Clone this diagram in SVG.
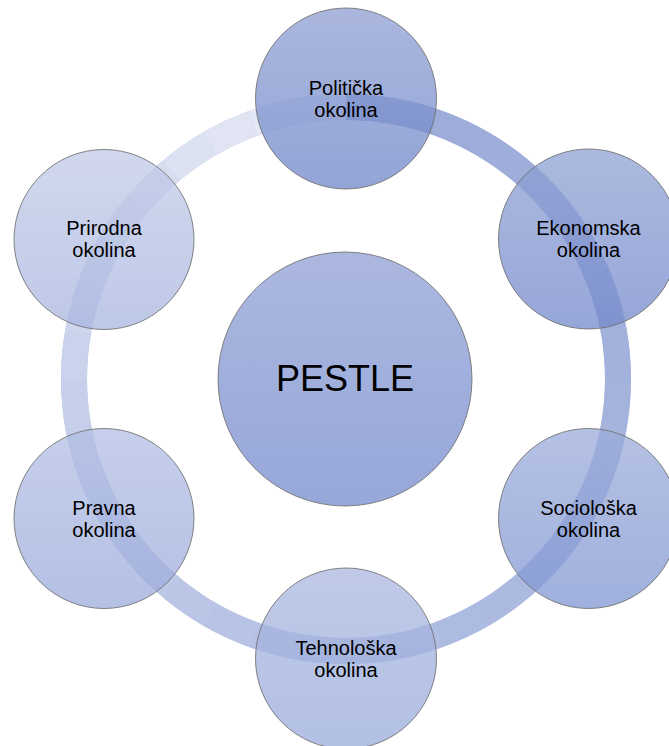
<svg xmlns="http://www.w3.org/2000/svg" width="669" height="746" viewBox="0 0 669 746">
<defs>
<style>
.seg{fill:none;stroke-width:26;stroke-linecap:butt}
.node{stroke:#6e6e6e;stroke-width:1;stroke-opacity:0.85}
.outer{fill-opacity:0.75}
.lbl{font-family:"Liberation Sans",Arial,sans-serif;font-size:20px;fill:#000;text-anchor:middle}
.big{font-family:"Liberation Sans",Arial,sans-serif;font-size:36px;fill:#000;text-anchor:middle}
</style>
<linearGradient id="gPol" x1="0" y1="0" x2="0" y2="1"><stop offset="0" stop-color="#8e9ed3"/><stop offset="1" stop-color="#6e86c8"/></linearGradient>
<linearGradient id="gEko" x1="0" y1="0" x2="0" y2="1"><stop offset="0" stop-color="#90a2d4"/><stop offset="1" stop-color="#7388cb"/></linearGradient>
<linearGradient id="gSoc" x1="0" y1="0" x2="0" y2="1"><stop offset="0" stop-color="#9cacda"/><stop offset="1" stop-color="#8096d2"/></linearGradient>
<linearGradient id="gTeh" x1="0" y1="0" x2="0" y2="1"><stop offset="0" stop-color="#abb8e0"/><stop offset="1" stop-color="#98abdb"/></linearGradient>
<linearGradient id="gPra" x1="0" y1="0" x2="0" y2="1"><stop offset="0" stop-color="#b3bfe4"/><stop offset="1" stop-color="#9babdb"/></linearGradient>
<linearGradient id="gPri" x1="0" y1="0" x2="0" y2="1"><stop offset="0" stop-color="#c2cbe7"/><stop offset="1" stop-color="#a8b6e0"/></linearGradient>
<linearGradient id="gCen" x1="0" y1="0" x2="0" y2="1"><stop offset="0" stop-color="#abb7df"/><stop offset="1" stop-color="#96a7d9"/></linearGradient>
</defs>
<rect width="669" height="746" fill="#ffffff"/>
<g id="connectors">
<circle cx="346" cy="379" r="272" fill="none" stroke="#b8c4e5" stroke-width="26"/>
<path class="seg" stroke="#9baad7" d="M346,107 A272,272 0 0 1 393.23,111.13"/>
<path class="seg" stroke="#9cabd8" d="M393.23,111.13 A272,272 0 0 1 439.03,123.40"/>
<path class="seg" stroke="#9dacd8" d="M439.03,123.40 A272,272 0 0 1 482,143.44"/>
<path class="seg" stroke="#9eadd9" d="M482,143.44 A272,272 0 0 1 520.84,170.64"/>
<path class="seg" stroke="#9faed9" d="M520.84,170.64 A272,272 0 0 1 554.36,204.16"/>
<path class="seg" stroke="#a0afda" d="M554.36,204.16 A272,272 0 0 1 581.56,243"/>
<path class="seg" stroke="#a1b0db" d="M581.56,243 A272,272 0 0 1 601.60,285.97"/>
<path class="seg" stroke="#a2b1db" d="M601.60,285.97 A272,272 0 0 1 613.87,331.77"/>
<path class="seg" stroke="#a3b2dc" d="M613.87,331.77 A272,272 0 0 1 618,379"/>
<path class="seg" stroke="#a4b3dc" d="M618,379 A272,272 0 0 1 613.87,426.23"/>
<path class="seg" stroke="#a6b4dd" d="M613.87,426.23 A272,272 0 0 1 601.60,472.03"/>
<path class="seg" stroke="#a7b6de" d="M601.60,472.03 A272,272 0 0 1 581.56,515"/>
<path class="seg" stroke="#a9b7df" d="M581.56,515 A272,272 0 0 1 554.36,553.84"/>
<path class="seg" stroke="#abb9e0" d="M554.36,553.84 A272,272 0 0 1 520.84,587.36"/>
<path class="seg" stroke="#acbae0" d="M520.84,587.36 A272,272 0 0 1 482,614.56"/>
<path class="seg" stroke="#aebbe1" d="M482,614.56 A272,272 0 0 1 439.03,634.60"/>
<path class="seg" stroke="#b0bde2" d="M439.03,634.60 A272,272 0 0 1 393.23,646.87"/>
<path class="seg" stroke="#b1bee3" d="M393.23,646.87 A272,272 0 0 1 346,651"/>
<path class="seg" stroke="#b3c0e3" d="M346,651 A272,272 0 0 1 298.77,646.87"/>
<path class="seg" stroke="#b6c2e4" d="M298.77,646.87 A272,272 0 0 1 252.97,634.60"/>
<path class="seg" stroke="#b8c4e5" d="M252.97,634.60 A272,272 0 0 1 210,614.56"/>
<path class="seg" stroke="#bbc6e6" d="M210,614.56 A272,272 0 0 1 171.16,587.36"/>
<path class="seg" stroke="#bdc8e7" d="M171.16,587.36 A272,272 0 0 1 137.64,553.84"/>
<path class="seg" stroke="#bfcae8" d="M137.64,553.84 A272,272 0 0 1 110.44,515"/>
<path class="seg" stroke="#c2cce9" d="M110.44,515 A272,272 0 0 1 90.40,472.03"/>
<path class="seg" stroke="#c4ceea" d="M90.40,472.03 A272,272 0 0 1 78.13,426.23"/>
<path class="seg" stroke="#c7d0eb" d="M78.13,426.23 A272,272 0 0 1 74,379"/>
<path class="seg" stroke="#cad3ec" d="M74,379 A272,272 0 0 1 78.13,331.77"/>
<path class="seg" stroke="#cdd6ed" d="M78.13,331.77 A272,272 0 0 1 90.40,285.97"/>
<path class="seg" stroke="#d1d8ee" d="M90.40,285.97 A272,272 0 0 1 110.44,243"/>
<path class="seg" stroke="#d5dcef" d="M110.44,243 A272,272 0 0 1 137.64,204.16"/>
<path class="seg" stroke="#d8def0" d="M137.64,204.16 A272,272 0 0 1 171.16,170.64"/>
<path class="seg" stroke="#dce2f1" d="M171.16,170.64 A272,272 0 0 1 210,143.44"/>
<path class="seg" stroke="#e1e5f3" d="M210,143.44 A272,272 0 0 1 252.97,123.40"/>
<path class="seg" stroke="#e3e8f4" d="M252.97,123.40 A272,272 0 0 1 298.77,111.13"/>
<path class="seg" stroke="#e5e9f5" d="M298.77,111.13 A272,272 0 0 1 346,107"/>
</g>
<g id="pestle">
<circle class="node" cx="345" cy="379" r="127" fill="url(#gCen)"/>
<text class="big" x="345" y="391">PESTLE</text>
</g>
<g id="politicka">
<circle class="node outer" cx="346" cy="98.5" r="90.5" fill="url(#gPol)"/>
<text class="lbl" x="346" y="95">Politička</text>
<text class="lbl" x="346" y="117">okolina</text>
</g>
<g id="ekonomska">
<circle class="node outer" cx="588.5" cy="239" r="90" fill="url(#gEko)"/>
<text class="lbl" x="588.5" y="235">Ekonomska</text>
<text class="lbl" x="588.5" y="257">okolina</text>
</g>
<g id="socioloska">
<circle class="node outer" cx="588.5" cy="518.5" r="90" fill="url(#gSoc)"/>
<text class="lbl" x="588.5" y="515">Sociološka</text>
<text class="lbl" x="588.5" y="537">okolina</text>
</g>
<g id="tehnoloska">
<circle class="node outer" cx="346" cy="658.5" r="90.5" fill="url(#gTeh)"/>
<text class="lbl" x="346" y="655">Tehnološka</text>
<text class="lbl" x="346" y="677">okolina</text>
</g>
<g id="pravna">
<circle class="node outer" cx="104" cy="518.5" r="90" fill="url(#gPra)"/>
<text class="lbl" x="104" y="515">Pravna</text>
<text class="lbl" x="104" y="537">okolina</text>
</g>
<g id="prirodna">
<circle class="node outer" cx="104" cy="239.5" r="90" fill="url(#gPri)"/>
<text class="lbl" x="104" y="235">Prirodna</text>
<text class="lbl" x="104" y="257">okolina</text>
</g>
</svg>
